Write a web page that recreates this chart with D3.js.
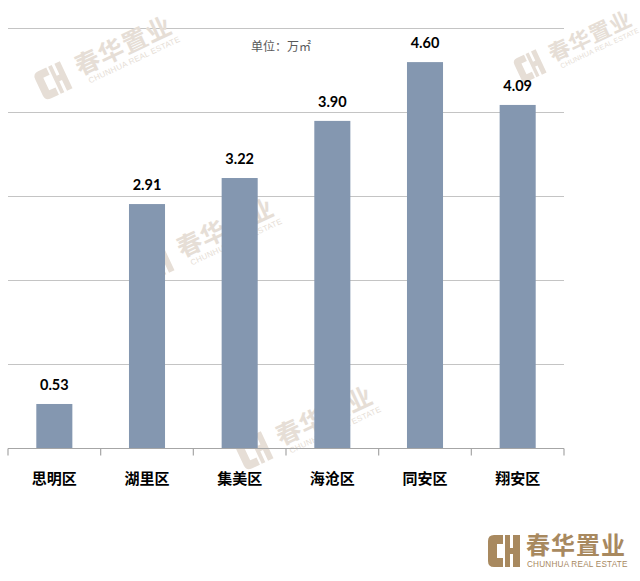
<!DOCTYPE html>
<html><head><meta charset="utf-8">
<script src="https://cdn.jsdelivr.net/npm/d3@7"></script>
<style>
html,body{margin:0;padding:0;background:#fff;}
svg{display:block;}
</style></head>
<body>
<svg id="chart" width="640" height="581"></svg>
<script>
const categories = ["思明区","湖里区","集美区","海沧区","同安区","翔安区"];
const values = [0.53, 2.91, 3.22, 3.90, 4.60, 4.09];
const yTicks = [0, 1, 2, 3, 4, 5];
const unitLabel = "单位：万㎡";
const brandCN = "春华置业";
const brandEN = "CHUNHUA REAL ESTATE";

(function () {
const svg = d3.select("#chart");
const mLeft = 8, mRight = 564, mTop = 28.5, mBottom = 448.5;

const x = d3.scaleBand().domain(categories).range([mLeft, mRight])
  .paddingInner(0.611).paddingOuter(0.3055);
const y = d3.scaleLinear().domain([0, 5]).range([mBottom, mTop]);

// watermarks (behind bars)
const wmColor = "#e6ded6";
function watermark(g, cx, cy, s) {
  const w = g.append("g").attr("transform", `translate(${cx},${cy}) rotate(-25) scale(${s})`);
  const ic = w.append("g").attr("transform", "translate(-42,-22)");
  ic.append("path").attr("d", "M15,0 H6 Q0,0 0,6 V24 Q0,30 6,30 H15 V22 H8 V8 H15 Z").attr("fill", wmColor);
  ic.append("path").attr("d", "M17,0 H21 V12 H24 V0 H30 V30 H24 V18 H21 V30 H17 Z").attr("fill", wmColor);
  w.append("text").attr("x", 0).attr("y", 0).attr("font-family", "Noto Sans CJK SC")
    .attr("font-weight", 700).attr("font-size", 25).attr("letter-spacing", 1).attr("fill", wmColor).text(brandCN);
  w.append("text").attr("x", 6).attr("y", 11).attr("font-family", "Liberation Sans")
    .attr("font-size", 8).attr("fill", wmColor).attr("letter-spacing", 0.3).text(brandEN);
}

// gridlines
svg.append("g").selectAll("line").data(yTicks.filter(d => d > 0)).join("line")
  .attr("x1", mLeft).attr("x2", mRight)
  .attr("y1", d => y(d)).attr("y2", d => y(d))
  .attr("stroke", "#c4c4c4").attr("stroke-width", 1.2);

const wm = svg.append("g");
watermark(wm, 80, 76, 1);
watermark(wm, 182, 258, 1);
watermark(wm, 281, 446, 1);
watermark(wm, 553, 62, 0.86);

// bars
svg.append("g").selectAll("rect").data(values).join("rect")
  .attr("x", (d, i) => x(categories[i]))
  .attr("y", d => y(d))
  .attr("width", x.bandwidth())
  .attr("height", d => y(0) - y(d))
  .attr("fill", "#8497b0");

// axis line
svg.append("line").attr("x1", mLeft).attr("x2", mRight).attr("y1", y(0)).attr("y2", y(0))
  .attr("stroke", "#a6a6a6").attr("stroke-width", 1.2);
// boundary ticks
const bounds = d3.range(categories.length + 1).map(i => mLeft + i * x.step());
svg.append("g").selectAll("line").data(bounds).join("line")
  .attr("x1", d => d).attr("x2", d => d)
  .attr("y1", y(0)).attr("y2", y(0) + 7)
  .attr("stroke", "#a6a6a6").attr("stroke-width", 1.2);

// value labels
svg.append("g").selectAll("text").data(values).join("text")
  .attr("x", (d, i) => x(categories[i]) + x.bandwidth() / 2)
  .attr("y", d => y(d) - 14)
  .attr("text-anchor", "middle")
  .attr("font-family", "Lato, 'Open Sans', sans-serif")
  .attr("font-weight", 700).attr("font-size", 14.5).attr("fill", "#000")
  .text(d => d.toFixed(2));

// category labels
svg.append("g").selectAll("text").data(categories).join("text")
  .attr("x", d => x(d) + x.bandwidth() / 2)
  .attr("y", 484)
  .attr("text-anchor", "middle")
  .attr("font-family", "'Noto Sans CJK SC', sans-serif")
  .attr("font-weight", 700).attr("font-size", 15).attr("fill", "#000")
  .text(d => d);

// unit
svg.append("text").attr("x", 251).attr("y", 51)
  .attr("font-family", "'Noto Sans CJK SC', sans-serif")
  .attr("font-size", 12).attr("fill", "#595959").text(unitLabel);

// bottom-right logo
const brown = "#a8895f";
const logo = svg.append("g").attr("transform", "translate(488,535)");
logo.append("path").attr("d", "M15,0 H6 Q0,0 0,6 V26 Q0,32 6,32 H15 V23 H9 V9 H15 Z").attr("fill", brown);
logo.append("path").attr("d", "M17,0 H22 V13 H25 V0 H32 V32 H25 V19 H22 V32 H17 Z").attr("fill", brown);
logo.append("text").attr("x", 38).attr("y", 19).attr("font-family", "'Noto Sans CJK SC'")
  .attr("font-weight", 700).attr("font-size", 24).attr("fill", brown).attr("letter-spacing", 1).text(brandCN);
logo.append("text").attr("x", 39).attr("y", 32).attr("font-family", "'Liberation Sans'")
  .attr("font-size", 8.2).attr("fill", brown).attr("letter-spacing", 0.2).text(brandEN);
})();
</script>
</body></html>
